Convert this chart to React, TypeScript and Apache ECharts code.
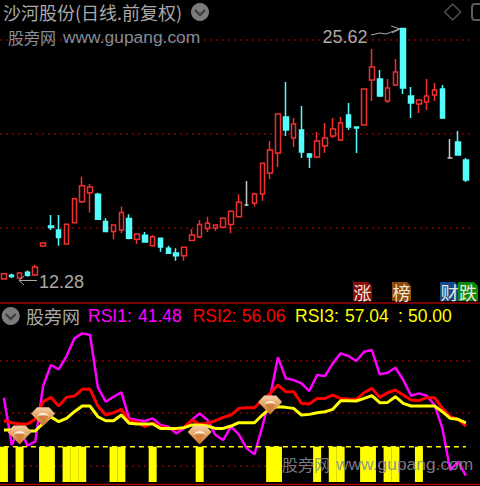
import React, { useEffect, useRef } from "react";
import * as echarts from "echarts";

// [open, close, low, high]
const candles: number[][] = [
  [12.29, 12.56, 12.29, 12.61], [12.48, 12.42, 12.34, 12.56], [12.34, 12.61, 12.28, 12.66], [12.64, 12.48, 12.40, 12.74],
  [12.50, 12.93, 12.45, 13.03], [14.04, 14.20, 13.99, 14.22], [15.11, 15.03, 14.90, 15.69], [14.90, 14.49, 14.06, 15.69],
  [14.15, 15.20, 14.12, 15.22], [15.28, 16.55, 15.27, 16.61], [16.40, 17.25, 16.33, 17.73], [16.88, 17.18, 15.82, 17.34],
  [16.79, 15.47, 15.43, 16.88], [15.34, 14.81, 14.77, 15.52], [14.81, 15.16, 14.40, 15.20], [14.90, 15.82, 14.72, 16.14],
  [15.50, 14.45, 14.40, 15.73], [14.40, 14.68, 14.15, 14.72], [14.61, 14.26, 14.22, 14.79], [14.06, 14.54, 14.01, 14.63],
  [14.45, 13.99, 13.74, 14.47], [13.92, 13.66, 13.62, 14.06], [13.67, 13.53, 13.26, 13.92], [13.53, 13.97, 13.26, 14.00],
  [14.33, 14.63, 14.29, 14.95], [14.52, 15.18, 14.47, 15.43], [14.97, 15.25, 14.79, 15.60], [15.00, 15.16, 14.86, 15.18],
  [15.04, 15.52, 15.00, 15.55], [15.18, 15.89, 14.72, 15.92], [15.60, 16.37, 15.57, 16.79], [16.22, 16.22, 16.17, 17.50],
  [16.32, 16.81, 16.14, 16.88], [16.81, 18.44, 16.45, 18.47], [17.93, 19.15, 17.59, 19.63], [18.99, 21.07, 18.25, 21.10],
  [20.91, 20.22, 19.90, 22.77], [19.79, 20.53, 19.31, 20.85], [20.22, 19.04, 18.73, 21.49], [18.94, 18.78, 18.19, 18.99],
  [18.78, 19.63, 18.73, 20.11], [19.36, 19.79, 18.99, 20.59], [19.90, 20.27, 19.79, 20.85], [19.68, 20.59, 19.63, 20.91],
  [21.01, 20.37, 20.22, 21.65], [20.37, 20.32, 18.99, 20.40], [20.48, 22.40, 20.45, 22.43], [22.87, 23.57, 21.76, 24.52],
  [22.93, 22.02, 21.97, 23.41], [21.76, 22.45, 21.65, 22.93], [22.61, 23.30, 22.56, 23.99], [25.62, 22.45, 22.13, 25.62],
  [22.02, 21.65, 20.85, 22.50], [21.60, 21.81, 21.12, 21.84], [21.70, 22.02, 21.28, 22.93], [22.08, 22.34, 21.76, 22.71],
  [22.40, 20.85, 20.80, 22.61], [18.73, 18.73, 18.70, 19.74], [19.58, 18.89, 18.85, 20.16], [18.62, 17.56, 17.45, 18.73],
];
const categories = candles.map((_, i) => String(i + 1));
const priceGrid = [25, 20, 15];
const rsiGrid = [75.5, 60, 44.5];

const rsi1 = [
  64.46, 50.5, 55.9, 50.3, 51.48, 67.9, 74.1, 72.82, 76.75, 81.96, 83.44, 82.95, 67.51, 63.28, 64.75, 66.03, 58.36, 57.87, 57.58, 58.36,
  56.4, 55.9, 53.94, 55.41, 57.87, 59.84, 57.87, 53.45, 51.97, 55.9, 53.64, 49.51, 47.74, 55.9, 64.75, 76.36, 70.16, 69.67, 68.69, 66.43,
  71.15, 70.85, 74.59, 77.54, 76.75, 75.28, 78.03, 78.52, 71.34, 71.83, 73.31, 69.67, 65.05, 65.74, 65.05, 62.3, 55.41, 43.12, 45.58, 41.48,
];
const rsi2 = [
  57.67, 57.08, 56.69, 56.69, 58.07, 63.28, 64.56, 62.0, 64.56, 64.95, 66.92, 67.02, 62.0, 59.35, 60.03, 61.02, 57.67, 57.38, 55.9, 57.08,
  55.9, 55.41, 55.12, 55.71, 57.87, 56.69, 56.89, 57.67, 58.66, 59.35, 61.31, 61.51, 61.51, 63.77, 65.74, 68.2, 66.23, 66.23, 62.79, 62.59,
  64.26, 64.26, 65.25, 64.26, 64.07, 63.97, 65.93, 67.21, 64.56, 65.93, 66.72, 65.25, 63.77, 63.57, 64.46, 64.46, 61.31, 58.85, 58.07, 56.06,
];
const rsi3 = [
  54.92, 54.92, 54.63, 54.63, 54.63, 56.89, 58.85, 57.38, 58.36, 60.33, 62.0, 62.0, 58.85, 57.67, 57.67, 59.35, 56.89, 56.69, 56.69, 56.69,
  55.41, 55.41, 55.41, 55.61, 56.4, 56.4, 56.1, 55.41, 55.41, 56.1, 57.08, 57.08, 57.08, 59.35, 61.31, 61.8, 61.61, 61.31, 59.35, 59.54,
  60.03, 60.33, 61.02, 63.57, 63.57, 63.48, 64.26, 65.05, 62.98, 63.08, 64.75, 62.79, 62.0, 62.0, 62.0, 62.0, 60.33, 58.36, 58.07, 57.04,
];
const level50 = categories.map(() => 50);
const barIndexes = [0, 2, 5, 6, 8, 9, 10, 14, 15, 19, 25, 34, 35, 40, 42, 43, 46, 47, 49, 50, 53];
const diamondIndexes = [2, 5, 25, 34];
const diamondValues = [53.45, 58.85, 53.45, 62.3];

const DIAMOND = "path://M6,0 L18,0 L24,6.5 L12,19 L0,6.5 Z";
const FACET = "path://M0,0 C3,3 9,3 12,0 L6,9 Z";
const GLINT = "path://M0,4 C3,0 9,0 12,4 C9,2 3,2 0,4 Z";

const CJK = '"Noto Sans CJK SC", sans-serif';
const LATIN = '"Liberation Sans", Arial, sans-serif';
const GREY = "#a9a9a9";

const label = (text: string, x: number, y: number, fill: string, fontSize: number, fontFamily = LATIN, opacity = 1) => ({
  type: "text", x, y, z: 50, silent: true,
  style: { text, fill, fontSize, fontFamily, verticalAlign: "middle", align: "left", opacity },
});
const chevron = (cx: number, cy: number) => [
  { type: "circle", z: 50, shape: { cx, cy, r: 9 }, style: { fill: "#7c7c7c" } },
  { type: "polyline", z: 51, shape: { points: [[cx - 5, cy - 2], [cx, cy + 3], [cx + 5, cy - 2]] }, style: { stroke: "#3a3a3a", lineWidth: 2, fill: "none" } },
];
const button = (x: number, w: number, fill: string, text: string) => [
  { type: "polygon", z: 50, shape: { points: [[x, 282], [x + w - 4, 282], [x + w, 286], [x + w, 301], [x, 301]] }, style: { fill } },
  { type: "text", x: x + w / 2, y: 292, z: 51, style: { text, fill: "#eee6dc", fontSize: 18, fontFamily: CJK, align: "center", verticalAlign: "middle" } },
];
const polyline = (points: number[][], stroke = GREY, lineWidth = 1) => ({
  type: "polyline", z: 50, shape: { points }, style: { stroke, lineWidth, fill: "none" },
});

export default function App() {
  const ref = useRef<HTMLDivElement>(null);
  useEffect(() => {
    document.body.style.margin = "0";
    const chart = echarts.init(ref.current!, undefined, { renderer: "svg" });
    const dotted = { color: "#8a0000", width: 1.5, type: [2, 4] as number[] };
    const hair = (levels: number[]) => ({
      silent: true, symbol: "none", animation: false, label: { show: false }, z: 1,
      lineStyle: dotted, data: levels.map((yAxis) => ({ yAxis })),
    });
    const rsiLine = (name: string, data: number[], color: string, width: number) => ({
      name, type: "line", xAxisIndex: 1, yAxisIndex: 1, data, symbol: "none", silent: true, z: 3,
      lineStyle: { color, width }, itemStyle: { color },
    });
    const marks = diamondIndexes.map((i, k) => [i, diamondValues[k]]);
    chart.setOption({
      animation: false,
      backgroundColor: "#000",
      grid: [
        { left: -1.2, width: 471, top: 0, height: 303 },
        { left: -1.2, width: 471, top: 303, height: 179 },
      ],
      xAxis: [
        { type: "category", gridIndex: 0, data: categories, show: false },
        { type: "category", gridIndex: 1, data: categories, show: false },
      ],
      yAxis: [
        { type: "value", gridIndex: 0, min: 11.01, max: 27.13, show: false, splitLine: { show: false } },
        { type: "value", gridIndex: 1, min: 39.59, max: 92.4, show: false, splitLine: { show: false } },
      ],
      series: [
        {
          name: "K", type: "candlestick", xAxisIndex: 0, yAxisIndex: 0, data: candles, barWidth: 5, silent: true,
          itemStyle: {
            color: "#000", color0: "#54fcfc", borderColor: "#f03030", borderColor0: "#54fcfc",
            borderColorDoji: "#c8c8c8", borderWidth: 1.5,
          },
          markLine: hair(priceGrid),
        },
        {
          name: "bars", type: "bar", xAxisIndex: 1, yAxisIndex: 1, barWidth: 8, silent: true, z: 2,
          data: categories.map((_, i) => (barIndexes.includes(i) ? 50 : null)),
          itemStyle: { color: "#ffff00" },
        },
        { ...rsiLine("RSI1", rsi1, "#ff00ff", 2.5), markLine: hair(rsiGrid) },
        rsiLine("RSI2", rsi2, "#ff0000", 3),
        rsiLine("RSI3", rsi3, "#ffff00", 3),
        {
          name: "level", type: "line", xAxisIndex: 1, yAxisIndex: 1, data: level50, symbol: "none", silent: true, z: 3,
          lineStyle: { color: "#ffff00", width: 1.5, type: [5, 4] },
        },
        {
          name: "diamond", type: "scatter", xAxisIndex: 1, yAxisIndex: 1, data: marks, symbol: DIAMOND, symbolSize: [24, 19], silent: true, z: 10,
          itemStyle: {
            opacity: 1,
            color: { type: "linear", x: 0, y: 0, x2: 0, y2: 1, colorStops: [{ offset: 0, color: "#f4d2a8" }, { offset: 0.55, color: "#e09a58" }, { offset: 1, color: "#c8732c" }] },
          },
        },
        {
          name: "facet", type: "scatter", xAxisIndex: 1, yAxisIndex: 1, data: marks, symbol: FACET, symbolSize: [13, 10], symbolOffset: [0, 2], silent: true, z: 11,
          itemStyle: { opacity: 1, color: "#d27f3a" },
        },
        {
          name: "glint", type: "scatter", xAxisIndex: 1, yAxisIndex: 1, data: marks, symbol: GLINT, symbolSize: [13, 4], symbolOffset: [0, -2], silent: true, z: 12,
          itemStyle: { opacity: 1, color: "#fff0dc" },
        },
      ],
      graphic: [
        label("沙河股份(日线.前复权)", 3, 12, GREY, 18, CJK),
        ...chevron(200, 12),
        label("股旁网", 8, 37, "#85909a", 16, CJK),
        label("www.gupang.com", 63, 37, "#7f8c9a", 17.4),
        { type: "polygon", z: 50, shape: { points: [[452.7, 4], [460.7, 12], [452.7, 20], [444.7, 12]] }, style: { stroke: "#505050", lineWidth: 1.5, fill: "none" } },
        { type: "rect", z: 50, shape: { x: 472, y: 4, width: 20, height: 16, r: 3 }, style: { stroke: "#5c5c5c", lineWidth: 2, fill: "none" } },
        label("25.62", 322.5, 36.5, GREY, 18),
        polyline([[371, 35], [380, 33], [386, 34], [399, 29]]),
        polyline([[391, 26], [400, 29], [392, 33]]),
        label("12.28", 39, 282, GREY, 18),
        polyline([[37, 280.5], [19, 280.5]]),
        polyline([[24, 276], [19, 280.5], [24, 285]]),
        ...button(353, 19, "#8b0a0a", "涨"),
        ...button(392, 19, "#8b4a0a", "榜"),
        ...button(440, 19, "#104a8a", "财"),
        ...button(458, 20, "#0a8a0a", "跌"),
        { type: "line", z: 40, shape: { x1: 0, y1: 303, x2: 480, y2: 303 }, style: { stroke: "#a00000", lineWidth: 1.5 } },
        { type: "line", z: 40, shape: { x1: 0, y1: 484.5, x2: 480, y2: 484.5 }, style: { stroke: "#a00000", lineWidth: 1.5 } },
        ...chevron(10.7, 316),
        label("股旁网", 26, 316, GREY, 18, CJK),
        label("RSI1:", 88, 316, "#ff00ff", 17.5),
        label("41.48", 138, 316, "#ff00ff", 17.5),
        label("RSI2:", 192.7, 316, "#ff0000", 17.5),
        label("56.06", 241.7, 316, "#ff0000", 17.5),
        label("RSI3:", 295, 316, "#ffff00", 17.5),
        label("57.04", 345, 316, "#ffff00", 17.5),
        label(":", 398, 316, "#ffff00", 17.5),
        label("50.00", 408, 316, "#ffff00", 17.5),
        label("股旁网", 282, 464, "#808890", 16, CJK, 0.9),
        label("www.gupang.com", 336, 464, "#7f8c9a", 17.4, LATIN, 0.9),
      ],
    });
    return () => chart.dispose();
  }, []);
  return <div ref={ref} style={{ width: 480, height: 486, position: "absolute", left: 0, top: 0 }} />;
}
